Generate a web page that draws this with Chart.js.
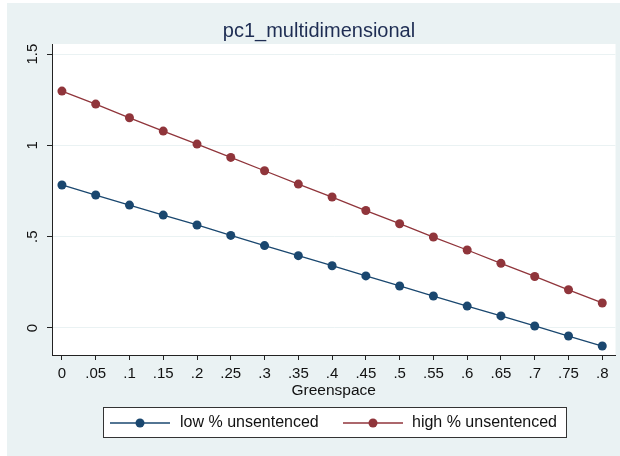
<!DOCTYPE html>
<html><head><meta charset="utf-8">
<script src="https://cdn.jsdelivr.net/npm/chart.js@4/dist/chart.umd.min.js"></script>
<style>
html,body{margin:0;padding:0;background:#fff;}
#wrap{position:absolute;left:0;top:0;width:620px;height:456px;}
</style></head>
<body>
<div id="wrap"><canvas id="c" width="620" height="456"></canvas></div>
<script>
const titleText = "pc1_multidimensional";
const xTitle = "Greenspace";
const greenspace = [0,0.05,0.1,0.15,0.2,0.25,0.3,0.35,0.4,0.45,0.5,0.55,0.6,0.65,0.7,0.75,0.8];
const lowUnsentenced = [0.783,0.728,0.673,0.618,0.564,0.507,0.451,0.396,0.341,0.285,0.230,0.175,0.120,0.066,0.011,-0.044,-0.099];
const highUnsentenced = [1.297,1.226,1.151,1.078,1.007,0.934,0.861,0.788,0.717,0.643,0.571,0.498,0.427,0.354,0.282,0.209,0.137];
const seriesNames = ["low % unsentenced","high % unsentenced"];
const yTicks = [0,0.5,1,1.5];
const yTickLabels = ["0",".5","1","1.5"];
const xTickLabels = ["0",".05",".1",".15",".2",".25",".3",".35",".4",".45",".5",".55",".6",".65",".7",".75",".8"];

const BLUE = "#1a476f", RED = "#90353b", BG = "#eaf2f3";
const FONT = "'Liberation Sans', Arial, sans-serif";

const bgPlugin = {
  id: 'bg',
  beforeDraw(chart) {
    const ctx = chart.ctx, a = chart.chartArea;
    ctx.save();
    ctx.fillStyle = BG;
    ctx.fillRect(7, 3, 613, 453);
    ctx.fillStyle = "#fff";
    ctx.fillRect(a.left, a.top, a.right - a.left, a.bottom - a.top);
    ctx.restore();
  },
  afterDraw(chart) {
    const ctx = chart.ctx;
    ctx.save();
    // title
    ctx.fillStyle = "#1e2d53";
    ctx.font = "20px " + FONT;
    ctx.textAlign = "center";
    ctx.textBaseline = "middle";
    ctx.fillText(titleText, 319, 31);
    // y tick labels rotated
    const ys = chart.scales.y;
    ctx.fillStyle = "#111";
    ctx.font = "15px " + FONT;
    ys.ticks.forEach((t, i) => {
      const py = ys.getPixelForValue(t.value);
      ctx.save();
      ctx.translate(33, py);
      ctx.rotate(-Math.PI / 2);
      ctx.textAlign = "center";
      ctx.textBaseline = "middle";
      ctx.fillText(yTickLabels[i], 0, 0);
      ctx.restore();
    });
    // legend
    const lx = 103, ly = 407, lw = 463, lh = 30;
    ctx.fillStyle = "#fff";
    ctx.fillRect(lx, ly, lw, lh);
    ctx.strokeStyle = "#333";
    ctx.lineWidth = 1;
    ctx.strokeRect(lx + 0.5, ly + 0.5, lw, lh);
    const items = [{x0:110,x1:170,tx:180,c:BLUE},{x0:343,x1:403,tx:412,c:RED}];
    items.forEach((it, i) => {
      const cy = 423;
      ctx.strokeStyle = it.c; ctx.lineWidth = 1.3;
      ctx.beginPath(); ctx.moveTo(it.x0, cy); ctx.lineTo(it.x1, cy); ctx.stroke();
      ctx.fillStyle = it.c;
      ctx.beginPath(); ctx.arc((it.x0 + it.x1) / 2, cy, 4.5, 0, Math.PI * 2); ctx.fill();
      ctx.fillStyle = "#111";
      ctx.font = "16px " + FONT;
      ctx.textAlign = "left"; ctx.textBaseline = "middle";
      ctx.fillText(chart.data.datasets[i].label, it.tx, cy);
    });
    ctx.restore();
  }
};

new Chart(document.getElementById('c'), {
  type: 'line',
  data: {
    datasets: [
      { label: seriesNames[0], data: greenspace.map((x, i) => ({x, y: lowUnsentenced[i]})),
        borderColor: BLUE, backgroundColor: BLUE, pointBackgroundColor: BLUE, pointBorderColor: BLUE,
        borderWidth: 1.3, pointRadius: 4.5, pointBorderWidth: 0, tension: 0 },
      { label: seriesNames[1], data: greenspace.map((x, i) => ({x, y: highUnsentenced[i]})),
        borderColor: RED, backgroundColor: RED, pointBackgroundColor: RED, pointBorderColor: RED,
        borderWidth: 1.3, pointRadius: 4.5, pointBorderWidth: 0, tension: 0 }
    ]
  },
  options: {
    responsive: false,
    animation: false,
    events: [],
    layout: { padding: { left: 0, right: 1, top: 44, bottom: 56 } },
    plugins: { legend: { display: false }, title: { display: false }, tooltip: { enabled: false } },
    scales: {
      x: {
        type: 'linear', min: -0.0147, max: 0.8196,
        afterBuildTicks(s) { s.ticks = greenspace.map(v => ({value: v})); },
        afterFit(s) { s.height = 45; },
        border: { display: true, color: "#222", width: 1 },
        grid: { drawOnChartArea: false, drawTicks: true, tickLength: 5, tickColor: "#222" },
        ticks: { color: "#111", font: { family: FONT, size: 15 }, padding: 5, maxRotation: 0, autoSkip: false,
          callback: (v, i) => xTickLabels[i] },
        title: { display: true, text: xTitle, color: "#111", font: { family: FONT, size: 15.5 }, padding: { top: 0, bottom: 0 } }
      },
      y: {
        type: 'linear', min: -0.148, max: 1.555,
        afterBuildTicks(s) { s.ticks = yTicks.map(v => ({value: v})); },
        afterFit(s) { s.width = 52; },
        border: { display: true, color: "#222", width: 1 },
        grid: { color: BG, lineWidth: 1, drawTicks: true, tickLength: 5, tickColor: "#222" },
        ticks: { display: false }
      }
    }
  },
  plugins: [bgPlugin]
});
</script>
</body></html>
